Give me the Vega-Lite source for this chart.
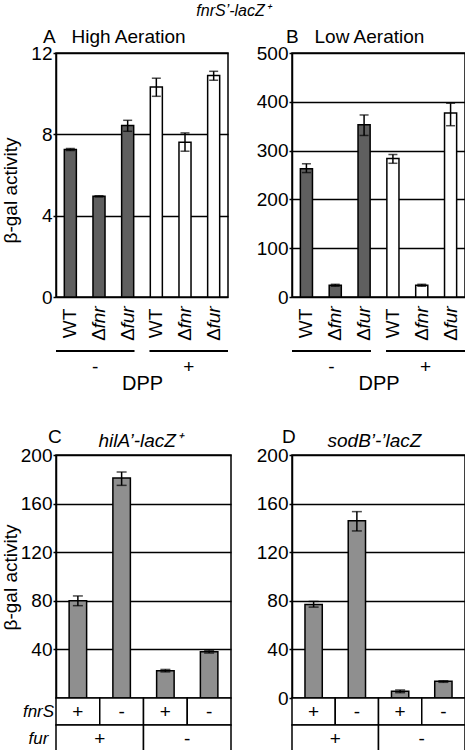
{
  "$schema": "https://vega.github.io/schema/vega-lite/v6.json",
  "padding": {"left": 0, "top": 3, "right": 0, "bottom": 0},
  "title": {"text": "fnrS’-lacZ⁺", "fontStyle": "italic", "fontSize": 16, "fontWeight": "normal", "anchor": "middle", "offset": 8, "color": "black"},
  "datasets": {
    "A": [
      {"c": "WT, -DPP", "wt": "WT", "delta": "", "gene": "", "dpp": "-", "v": 7.25, "lo": 7.2, "hi": 7.3},
      {"c": "Δfnr, -DPP", "wt": "", "delta": "Δ", "gene": "fnr", "dpp": "-", "v": 4.95, "lo": 4.92, "hi": 4.98},
      {"c": "Δfur, -DPP", "wt": "", "delta": "Δ", "gene": "fur", "dpp": "-", "v": 8.43, "lo": 8.15, "hi": 8.69},
      {"c": "WT, +DPP", "wt": "WT", "delta": "", "gene": "", "dpp": "+", "v": 10.33, "lo": 9.87, "hi": 10.76},
      {"c": "Δfnr, +DPP", "wt": "", "delta": "Δ", "gene": "fnr", "dpp": "+", "v": 7.61, "lo": 7.17, "hi": 8.07},
      {"c": "Δfur, +DPP", "wt": "", "delta": "Δ", "gene": "fur", "dpp": "+", "v": 10.89, "lo": 10.66, "hi": 11.1}
    ],
    "B": [
      {"c": "WT, -DPP", "wt": "WT", "delta": "", "gene": "", "dpp": "-", "v": 263, "lo": 255, "hi": 273},
      {"c": "Δfnr, -DPP", "wt": "", "delta": "Δ", "gene": "fnr", "dpp": "-", "v": 24, "lo": 22, "hi": 26},
      {"c": "Δfur, -DPP", "wt": "", "delta": "Δ", "gene": "fur", "dpp": "-", "v": 353, "lo": 331, "hi": 373},
      {"c": "WT, +DPP", "wt": "WT", "delta": "", "gene": "", "dpp": "+", "v": 284, "lo": 274, "hi": 292},
      {"c": "Δfnr, +DPP", "wt": "", "delta": "Δ", "gene": "fnr", "dpp": "+", "v": 24, "lo": 22, "hi": 26},
      {"c": "Δfur, +DPP", "wt": "", "delta": "Δ", "gene": "fur", "dpp": "+", "v": 377, "lo": 351, "hi": 397}
    ],
    "DPP": [{"g": "-"}, {"g": "+"}],
    "C": [
      {"c": "fnrS+ fur+", "v": 80, "lo": 76, "hi": 84},
      {"c": "fnrS- fur+", "v": 181, "lo": 175, "hi": 186},
      {"c": "fnrS+ fur-", "v": 22.5, "lo": 21.5, "hi": 23.5},
      {"c": "fnrS- fur-", "v": 38, "lo": 37, "hi": 39}
    ],
    "D": [
      {"c": "fnrS+ fur+", "v": 77, "lo": 74.8, "hi": 79.5},
      {"c": "fnrS- fur+", "v": 145.8, "lo": 137.5, "hi": 153.4},
      {"c": "fnrS+ fur-", "v": 5.5, "lo": 4.4, "hi": 6.6},
      {"c": "fnrS- fur-", "v": 13.7, "lo": 12.9, "hi": 14.2}
    ],
    "fnrSRow": [
      {"c": "fnrS+ fur+", "row": "fnrS", "sign": "+"},
      {"c": "fnrS- fur+", "row": "fnrS", "sign": "-"},
      {"c": "fnrS+ fur-", "row": "fnrS", "sign": "+"},
      {"c": "fnrS- fur-", "row": "fnrS", "sign": "-"}
    ],
    "furRow": [
      {"grp": "fur+", "row": "fur", "sign": "+"},
      {"grp": "fur-", "row": "fur", "sign": "-"}
    ],
    "empty": []
  },
  "hconcat": [
    {
      "bounds": "flush",
      "spacing": 0,
      "vconcat": [
        {
          "width": 172, "height": 244,
          "title": {"text": "A\u00a0\u00a0\u00a0High Aeration", "anchor": "start", "frame": "group", "dx": -13, "offset": -3},
          "data": {"name": "A"},
          "encoding": {"x": {"field": "c", "type": "nominal", "sort": null, "axis": null, "scale": {"paddingInner": 0.58, "paddingOuter": 0.29}}},
          "layer": [
            {"mark": {"type": "bar", "stroke": "black", "strokeWidth": 1.5},
             "encoding": {
               "y": {"field": "v", "type": "quantitative", "title": "β-gal activity", "scale": {"domain": [0, 12], "nice": false},
                     "axis": {"values": [0, 4, 8, 12], "grid": true, "minExtent": 34, "maxExtent": 34, "titleY": 137, "titlePadding": 2}},
               "fill": {"field": "dpp", "type": "nominal", "scale": {"domain": ["-", "+"], "range": ["#5f5f5f", "#ffffff"]}, "legend": null}}},
            {"mark": {"type": "rule", "color": "black", "strokeWidth": 1.5},
             "encoding": {"y": {"field": "lo", "type": "quantitative", "title": "β-gal activity"}, "y2": {"field": "hi"}}},
            {"mark": {"type": "tick", "color": "black", "size": 9, "thickness": 1.5},
             "encoding": {"y": {"field": "lo", "type": "quantitative", "title": "β-gal activity"}}},
            {"mark": {"type": "tick", "color": "black", "size": 9, "thickness": 1.5},
             "encoding": {"y": {"field": "hi", "type": "quantitative", "title": "β-gal activity"}}}
          ]
        },
        {
          "width": 172, "height": 53, "view": {"stroke": null},
          "data": {"name": "A"},
          "encoding": {"x": {"field": "c", "type": "nominal", "sort": null, "axis": null, "scale": {"paddingInner": 0.58, "paddingOuter": 0.29}}},
          "layer": [
            {"mark": {"type": "text", "angle": 270, "fontSize": 19, "align": "center", "baseline": "middle"}, "encoding": {"text": {"field": "wt"}}},
            {"mark": {"type": "text", "angle": 270, "fontSize": 19, "align": "center", "baseline": "middle", "dx": -11}, "encoding": {"text": {"field": "delta"}}},
            {"mark": {"type": "text", "angle": 270, "fontSize": 19, "align": "center", "baseline": "middle", "dx": 6, "fontStyle": "italic"}, "encoding": {"text": {"field": "gene"}}}
          ]
        },
        {
          "width": 172, "height": 2, "view": {"stroke": null},
          "data": {"name": "DPP"},
          "mark": {"type": "rect", "color": "black"},
          "encoding": {"x": {"field": "g", "type": "nominal", "sort": null, "scale": {"paddingInner": 0.16, "paddingOuter": 0},
            "axis": {"title": "DPP", "domain": false, "ticks": false, "labelAngle": 0, "labelPadding": 5, "titlePadding": -3, "titleFontSize": 20}}}
        },
        {"width": 172, "height": 103, "view": {"stroke": null}, "data": {"name": "empty"}, "mark": "point"},
        {
          "width": 175, "height": 243,
          "title": {"text": "C", "anchor": "start", "frame": "group", "dx": -8, "offset": -16},
          "data": {"name": "C"},
          "encoding": {"x": {"field": "c", "type": "nominal", "sort": null, "scale": {"paddingInner": 0.6, "paddingOuter": 0.3},
            "axis": {"orient": "top", "labels": false, "ticks": false, "domain": false, "title": "hilA’-lacZ⁺", "titleFontStyle": "italic", "titleX": 42, "titleAlign": "left", "titlePadding": 5}}},
          "layer": [
            {"mark": {"type": "bar", "stroke": "black", "strokeWidth": 1.5, "fill": "#8f8f8f"},
             "encoding": {"y": {"field": "v", "type": "quantitative", "title": "β-gal activity", "scale": {"domain": [0, 200], "nice": false},
               "axis": {"values": [40, 80, 120, 160, 200], "grid": true, "minExtent": 34, "maxExtent": 34, "titleY": 122, "titlePadding": 2}}}},
            {"mark": {"type": "rule", "color": "black", "strokeWidth": 1.5},
             "encoding": {"y": {"field": "lo", "type": "quantitative", "title": "β-gal activity"}, "y2": {"field": "hi"}}},
            {"mark": {"type": "tick", "color": "black", "size": 10, "thickness": 1.5},
             "encoding": {"y": {"field": "lo", "type": "quantitative", "title": "β-gal activity"}}},
            {"mark": {"type": "tick", "color": "black", "size": 10, "thickness": 1.5},
             "encoding": {"y": {"field": "hi", "type": "quantitative", "title": "β-gal activity"}}}
          ]
        },
        {
          "width": 175, "height": 54, "view": {"stroke": null},
          "encoding": {"y": {"field": "row", "type": "nominal", "sort": null, "title": null, "scale": {"domain": ["fnrS", "fur"], "paddingInner": 0, "paddingOuter": 0},
            "axis": {"domain": false, "ticks": false, "grid": false, "labelFontStyle": "italic", "labelFontSize": 17, "labelAlign": "center", "labelPadding": 18}}},
          "layer": [
            {"data": {"name": "fnrSRow"},
             "encoding": {"x": {"field": "c", "type": "nominal", "sort": null, "axis": null, "scale": {"paddingInner": 0, "paddingOuter": 0}}},
             "layer": [
               {"mark": {"type": "rect", "fill": "white", "stroke": "black", "strokeWidth": 1.5}},
               {"mark": {"type": "text", "fontSize": 19}, "encoding": {"text": {"field": "sign"}}}
             ]},
            {"data": {"name": "furRow"},
             "encoding": {"x": {"field": "grp", "type": "nominal", "sort": null, "axis": null, "scale": {"paddingInner": 0, "paddingOuter": 0}}},
             "layer": [
               {"mark": {"type": "rect", "fill": "white", "stroke": "black", "strokeWidth": 1.5}},
               {"mark": {"type": "text", "fontSize": 19}, "encoding": {"text": {"field": "sign"}}}
             ]}
          ],
          "resolve": {"scale": {"x": "independent"}}
        }
      ]
    },
    {
      "bounds": "flush",
      "spacing": 0,
      "vconcat": [
        {
          "width": 173, "height": 244,
          "title": {"text": "B\u00a0\u00a0\u00a0Low Aeration", "anchor": "start", "frame": "group", "dx": -6, "offset": -3},
          "data": {"name": "B"},
          "encoding": {"x": {"field": "c", "type": "nominal", "sort": null, "axis": null, "scale": {"paddingInner": 0.58, "paddingOuter": 0.29}}},
          "layer": [
            {"mark": {"type": "bar", "stroke": "black", "strokeWidth": 1.5},
             "encoding": {
               "y": {"field": "v", "type": "quantitative", "title": null, "scale": {"domain": [0, 500], "nice": false},
                     "axis": {"values": [0, 100, 200, 300, 400, 500], "grid": true}},
               "fill": {"field": "dpp", "type": "nominal", "scale": {"domain": ["-", "+"], "range": ["#5f5f5f", "#ffffff"]}, "legend": null}}},
            {"mark": {"type": "rule", "color": "black", "strokeWidth": 1.5},
             "encoding": {"y": {"field": "lo", "type": "quantitative", "title": null}, "y2": {"field": "hi"}}},
            {"mark": {"type": "tick", "color": "black", "size": 9, "thickness": 1.5},
             "encoding": {"y": {"field": "lo", "type": "quantitative", "title": null}}},
            {"mark": {"type": "tick", "color": "black", "size": 9, "thickness": 1.5},
             "encoding": {"y": {"field": "hi", "type": "quantitative", "title": null}}}
          ]
        },
        {
          "width": 173, "height": 53, "view": {"stroke": null},
          "data": {"name": "B"},
          "encoding": {"x": {"field": "c", "type": "nominal", "sort": null, "axis": null, "scale": {"paddingInner": 0.58, "paddingOuter": 0.29}}},
          "layer": [
            {"mark": {"type": "text", "angle": 270, "fontSize": 19, "align": "center", "baseline": "middle"}, "encoding": {"text": {"field": "wt"}}},
            {"mark": {"type": "text", "angle": 270, "fontSize": 19, "align": "center", "baseline": "middle", "dx": -11}, "encoding": {"text": {"field": "delta"}}},
            {"mark": {"type": "text", "angle": 270, "fontSize": 19, "align": "center", "baseline": "middle", "dx": 6, "fontStyle": "italic"}, "encoding": {"text": {"field": "gene"}}}
          ]
        },
        {
          "width": 173, "height": 2, "view": {"stroke": null},
          "data": {"name": "DPP"},
          "mark": {"type": "rect", "color": "black"},
          "encoding": {"x": {"field": "g", "type": "nominal", "sort": null, "scale": {"paddingInner": 0.16, "paddingOuter": 0},
            "axis": {"title": "DPP", "domain": false, "ticks": false, "labelAngle": 0, "labelPadding": 5, "titlePadding": -3, "titleFontSize": 20}}}
        },
        {"width": 173, "height": 103, "view": {"stroke": null}, "data": {"name": "empty"}, "mark": "point"},
        {
          "width": 173, "height": 243,
          "title": {"text": "D", "anchor": "start", "frame": "group", "dx": -10, "offset": -16},
          "data": {"name": "D"},
          "encoding": {"x": {"field": "c", "type": "nominal", "sort": null, "scale": {"paddingInner": 0.6, "paddingOuter": 0.3},
            "axis": {"orient": "top", "labels": false, "ticks": false, "domain": false, "title": "sodB’-’lacZ", "titleFontStyle": "italic", "titleX": 35, "titleAlign": "left", "titlePadding": 5}}},
          "layer": [
            {"mark": {"type": "bar", "stroke": "black", "strokeWidth": 1.5, "fill": "#8f8f8f"},
             "encoding": {"y": {"field": "v", "type": "quantitative", "title": null, "scale": {"domain": [0, 200], "nice": false},
               "axis": {"values": [0, 40, 80, 120, 160, 200], "grid": true}}}},
            {"mark": {"type": "rule", "color": "black", "strokeWidth": 1.5},
             "encoding": {"y": {"field": "lo", "type": "quantitative", "title": null}, "y2": {"field": "hi"}}},
            {"mark": {"type": "tick", "color": "black", "size": 10, "thickness": 1.5},
             "encoding": {"y": {"field": "lo", "type": "quantitative", "title": null}}},
            {"mark": {"type": "tick", "color": "black", "size": 10, "thickness": 1.5},
             "encoding": {"y": {"field": "hi", "type": "quantitative", "title": null}}}
          ]
        },
        {
          "width": 173, "height": 54, "view": {"stroke": null},
          "encoding": {"y": {"field": "row", "type": "nominal", "sort": null, "title": null, "scale": {"domain": ["fnrS", "fur"], "paddingInner": 0, "paddingOuter": 0}, "axis": null}},
          "layer": [
            {"data": {"name": "fnrSRow"},
             "encoding": {"x": {"field": "c", "type": "nominal", "sort": null, "axis": null, "scale": {"paddingInner": 0, "paddingOuter": 0}}},
             "layer": [
               {"mark": {"type": "rect", "fill": "white", "stroke": "black", "strokeWidth": 1.5}},
               {"mark": {"type": "text", "fontSize": 19}, "encoding": {"text": {"field": "sign"}}}
             ]},
            {"data": {"name": "furRow"},
             "encoding": {"x": {"field": "grp", "type": "nominal", "sort": null, "axis": null, "scale": {"paddingInner": 0, "paddingOuter": 0}}},
             "layer": [
               {"mark": {"type": "rect", "fill": "white", "stroke": "black", "strokeWidth": 1.5}},
               {"mark": {"type": "text", "fontSize": 19}, "encoding": {"text": {"field": "sign"}}}
             ]}
          ],
          "resolve": {"scale": {"x": "independent"}}
        }
      ]
    }
  ],
  "spacing": 23,
  "config": {
    "font": "Liberation Sans",
    "view": {"stroke": "black", "strokeWidth": 1.5},
    "title": {"fontSize": 19, "fontWeight": "normal", "color": "black"},
    "axis": {
      "labelFontSize": 19, "titleFontSize": 19, "titleFontWeight": "normal",
      "labelColor": "black", "titleColor": "black",
      "domainColor": "black", "tickColor": "black", "gridColor": "black",
      "domainWidth": 1.5, "tickWidth": 1.5, "gridWidth": 1.5, "gridOpacity": 1,
      "tickSize": 3, "labelPadding": 1
    },
    "text": {"color": "black"}
  }
}
